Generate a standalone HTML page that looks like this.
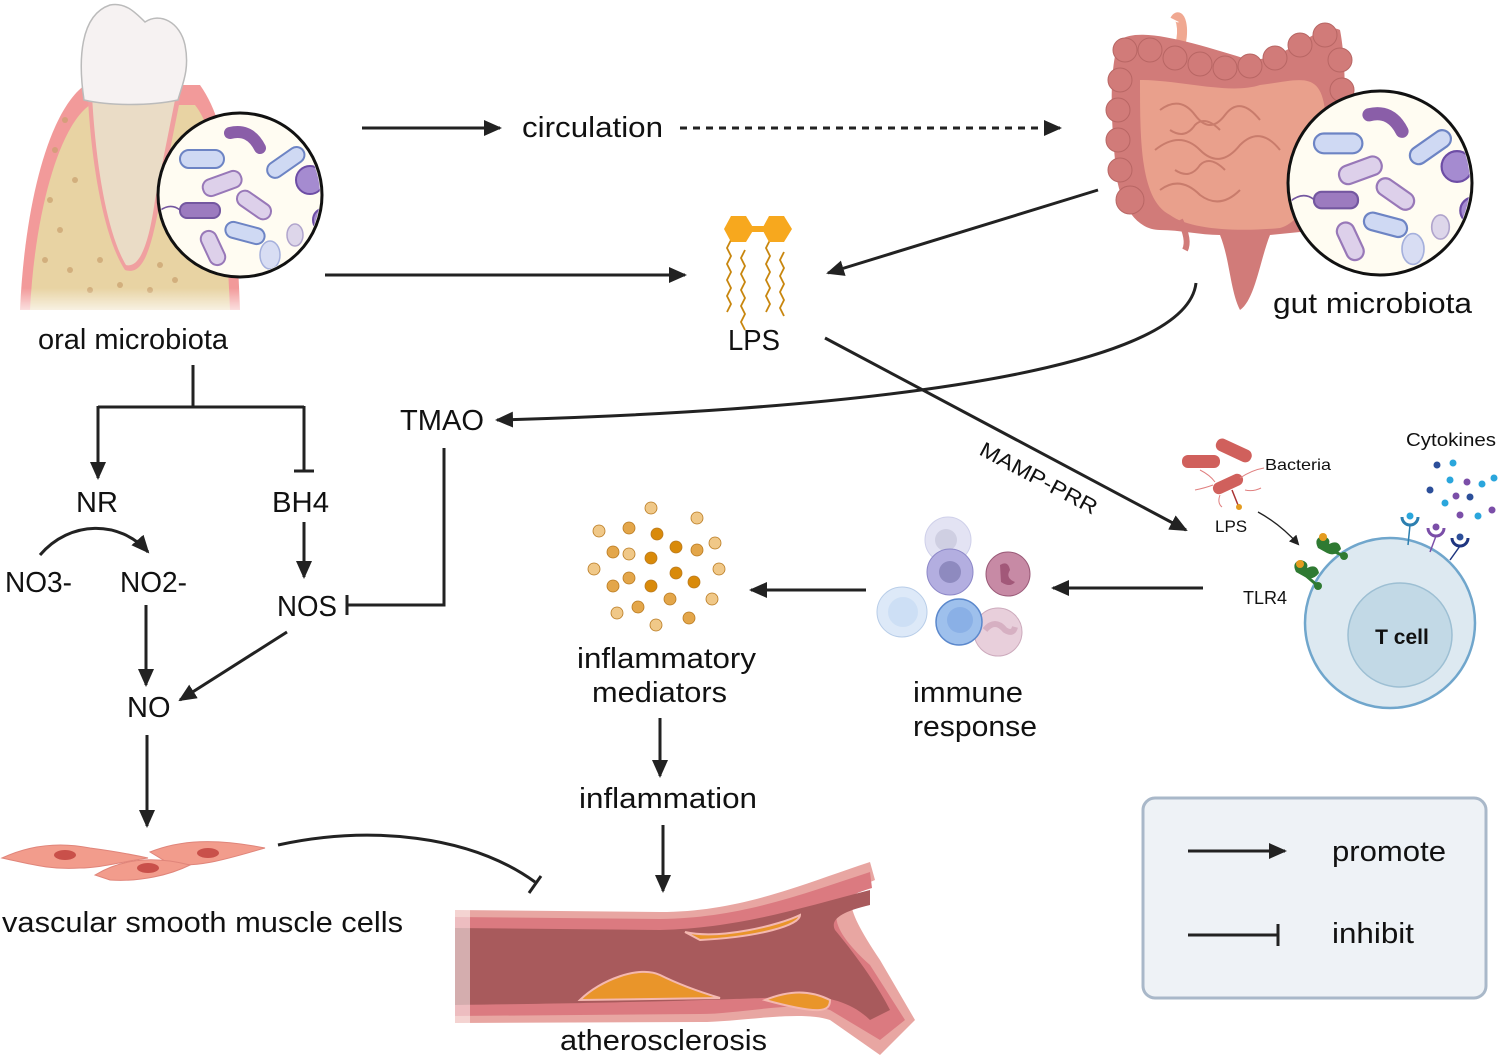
<!DOCTYPE html>
<html><head><meta charset="utf-8"><style>
html,body{margin:0;padding:0;background:#fff}
svg{display:block}
text{font-family:"Liberation Sans",sans-serif;fill:#111}
</style></head><body>
<svg width="1500" height="1060" viewBox="0 0 1500 1060" xmlns="http://www.w3.org/2000/svg">
<defs>
<marker id="ah" markerWidth="10" markerHeight="10" refX="8" refY="5" orient="auto" markerUnits="userSpaceOnUse" viewBox="0 0 10 10"><path d="M0,0 L10,5 L0,10 z" fill="#222"/></marker>
<marker id="ahb" markerWidth="18" markerHeight="16" refX="16" refY="8" orient="auto" markerUnits="userSpaceOnUse" viewBox="0 0 18 16"><path d="M0,0 L18,8 L0,16 z" fill="#222"/></marker>
<linearGradient id="fade" x1="0" y1="0" x2="0" y2="1"><stop offset="0.6" stop-color="#fff" stop-opacity="0"/><stop offset="1" stop-color="#fff" stop-opacity="1"/></linearGradient>
<g id="microbes">
<rect x="-60" y="-45" width="44" height="18" rx="9" fill="#cfd9f3" stroke="#6d84c4" stroke-width="2"/>
<path d="M-10,-62 q20,-5 30,15" stroke="#8a5ea8" stroke-width="12" fill="none" stroke-linecap="round"/>
<rect x="25" y="-40" width="42" height="16" rx="8" transform="rotate(-35 45 -32)" fill="#cfd9f3" stroke="#6d84c4" stroke-width="2"/>
<circle cx="70" cy="-15" r="14" fill="#a58bd0" stroke="#6d4da5" stroke-width="2"/>
<rect x="-38" y="-20" width="40" height="17" rx="8" transform="rotate(-20 -18 -12)" fill="#ddd0ea" stroke="#9878b8" stroke-width="2"/>
<rect x="-5" y="2" width="38" height="16" rx="8" transform="rotate(35 14 10)" fill="#ddd0ea" stroke="#9878b8" stroke-width="2"/>
<rect x="-60" y="8" width="40" height="15" rx="7" fill="#9c7bbf" stroke="#7457a0" stroke-width="2"/>
<path d="M-60,15 q-10,-8 -22,2" stroke="#7457a0" fill="none" stroke-width="1.5"/>
<rect x="-15" y="30" width="40" height="16" rx="8" transform="rotate(15 5 38)" fill="#cfd9f3" stroke="#6d84c4" stroke-width="2"/>
<rect x="-45" y="45" width="36" height="16" rx="8" transform="rotate(65 -27 53)" fill="#ddd0ea" stroke="#9878b8" stroke-width="2"/>
<ellipse cx="30" cy="60" rx="10" ry="14" fill="#d8ddf3" stroke="#a5b0dc" stroke-width="1.5"/>
<ellipse cx="55" cy="40" rx="8" ry="11" fill="#ddd6ea" stroke="#b0a4cc" stroke-width="1.5"/>
<circle cx="85" cy="25" r="12" fill="#a58bd0" stroke="#6d4da5" stroke-width="2"/>
</g>
</defs>

<!-- Tooth -->
<g>
<path d="M20,310 C25,200 50,110 85,85 L200,85 C225,120 235,180 240,310 Z" fill="#f29a9a"/>
<path d="M30,310 C35,210 60,125 90,105 L195,105 C215,130 225,190 230,310 Z" fill="#e8d3a3"/>
<g fill="#c9a06e" opacity="0.7">
<circle cx="50" cy="200" r="3"/><circle cx="60" cy="230" r="3"/><circle cx="45" cy="260" r="3"/><circle cx="70" cy="270" r="3"/><circle cx="55" cy="150" r="3"/><circle cx="75" cy="180" r="3"/><circle cx="190" cy="230" r="3"/><circle cx="200" cy="260" r="3"/><circle cx="175" cy="280" r="3"/><circle cx="90" cy="290" r="3"/><circle cx="120" cy="285" r="3"/><circle cx="150" cy="290" r="3"/><circle cx="65" cy="120" r="3"/><circle cx="180" cy="150" r="3"/><circle cx="100" cy="260" r="3"/><circle cx="160" cy="265" r="3"/>
</g>
<path d="M88,100 C92,170 105,240 125,270 C140,275 150,260 160,200 L180,100 Z" fill="#f0a0a0"/>
<path d="M92,95 C96,170 108,235 126,265 C138,268 148,250 155,200 L176,95 Z" fill="#eadcc6"/>
<path d="M84,100 C78,60 80,15 110,5 C125,2 135,12 145,22 C160,12 180,22 185,45 C190,70 182,85 178,100 C150,106 110,106 84,100 Z" fill="#f6f2f2" stroke="#bbb" stroke-width="1.5"/>
<rect x="15" y="240" width="240" height="80" fill="url(#fade)"/>
<circle cx="240" cy="195" r="82" fill="#fffcf2" stroke="#111" stroke-width="3"/>
<clipPath id="c1"><circle cx="240" cy="195" r="80"/></clipPath>
<g clip-path="url(#c1)"><use href="#microbes" x="240" y="195"/></g>
</g>

<!-- Gut -->
<g>
<path d="M1175,20 C1180,10 1185,30 1180,45" stroke="#f0a891" stroke-width="10" fill="none"/>
<path d="M1120,40 C1140,25 1200,45 1250,60 C1290,60 1320,20 1340,30 C1350,80 1345,200 1320,230 L1270,235 C1260,260 1255,300 1240,310 C1230,290 1230,260 1220,235 C1200,235 1180,230 1160,230 C1130,230 1115,190 1115,160 C1110,110 1110,60 1120,40 Z" fill="#d17b79"/>
<g fill="#d17b79" stroke="#b86664" stroke-width="1"><circle cx="1125" cy="50" r="12"/><circle cx="1150" cy="50" r="12"/><circle cx="1175" cy="58" r="12"/><circle cx="1200" cy="64" r="12"/><circle cx="1225" cy="68" r="12"/><circle cx="1250" cy="66" r="12"/><circle cx="1275" cy="58" r="12"/><circle cx="1300" cy="45" r="12"/><circle cx="1325" cy="35" r="12"/><circle cx="1120" cy="80" r="12"/><circle cx="1118" cy="110" r="12"/><circle cx="1118" cy="140" r="12"/><circle cx="1120" cy="170" r="12"/><circle cx="1130" cy="200" r="14"/><circle cx="1340" cy="60" r="12"/><circle cx="1342" cy="90" r="12"/></g>
<path d="M1140,80 C1180,80 1230,95 1260,85 C1300,80 1320,70 1325,110 C1330,160 1310,220 1280,228 C1240,232 1190,230 1170,215 C1140,200 1140,140 1140,80 Z" fill="#e9a08c"/>
<g stroke="#c97c6c" stroke-width="2" fill="none"><path d="M1160,110 q20,-15 35,5 q15,20 30,0 q15,-20 35,5"/><path d="M1155,150 q25,-20 45,0 q20,20 40,-5 q20,-20 40,5"/><path d="M1160,190 q20,-15 40,5 q20,15 40,-5"/><path d="M1170,130 q15,10 25,-5 q10,-10 25,5"/><path d="M1175,170 q15,10 25,-5 q10,-10 25,5"/></g>
<path d="M1180,220 q10,20 5,30" stroke="#d17b79" stroke-width="6" fill="none"/>
<circle cx="1380" cy="183" r="92" fill="#fffcf2" stroke="#111" stroke-width="3"/>
<clipPath id="c2"><circle cx="1380" cy="183" r="90"/></clipPath>
<g clip-path="url(#c2)"><use href="#microbes" x="1380" y="183" transform="translate(1380 183) scale(1.1) translate(-1380 -183)"/></g>
</g>

<!-- LPS icon -->
<g fill="none" stroke="#c8860e" stroke-width="1.8">
<path d="M731,240 l-4,8 l4,8 l-4,8 l4,8 l-4,8 l4,8 l-4,8 l4,8 l-4,8"/>
<path d="M745,250 l-4,8 l4,8 l-4,8 l4,8 l-4,8 l4,8 l-4,8 l4,8 l-4,8 l4,8"/>
<path d="M770,240 l-4,8 l4,8 l-4,8 l4,8 l-4,8 l4,8 l-4,8 l4,8 l-4,8"/>
<path d="M784,252 l-4,8 l4,8 l-4,8 l4,8 l-4,8 l4,8 l-4,8 l4,8"/>
</g>
<polygon points="724,229 731,216 746,216 754,229 746,242 731,242" fill="#f7a81e"/>
<polygon points="762,229 769,216 784,216 792,229 784,242 769,242" fill="#f7a81e"/>
<rect x="752" y="226" width="12" height="6" fill="#f7a81e"/>

<!-- inflammatory mediator dots -->
<g stroke="#b97a20" stroke-width="0.8">
<circle cx="651" cy="508" r="6" fill="#f0c888"/><circle cx="697" cy="518" r="6" fill="#f0c888"/><circle cx="599" cy="531" r="6" fill="#f0c888"/><circle cx="629" cy="528" r="6" fill="#e3a64a"/><circle cx="657" cy="534" r="6" fill="#d98a0a"/><circle cx="715" cy="543" r="6" fill="#f0c888"/><circle cx="613" cy="552" r="6" fill="#e3a64a"/><circle cx="629" cy="554" r="6" fill="#f0c888"/><circle cx="676" cy="547" r="6" fill="#d98a0a"/><circle cx="697" cy="550" r="6" fill="#e3a64a"/><circle cx="651" cy="558" r="6" fill="#d98a0a"/><circle cx="594" cy="569" r="6" fill="#f0c888"/><circle cx="719" cy="569" r="6" fill="#f0c888"/><circle cx="629" cy="578" r="6" fill="#e3a64a"/><circle cx="676" cy="573" r="6" fill="#d98a0a"/><circle cx="613" cy="586" r="6" fill="#e3a64a"/><circle cx="651" cy="586" r="6" fill="#d98a0a"/><circle cx="694" cy="582" r="6" fill="#d98a0a"/><circle cx="670" cy="599" r="6" fill="#e3a64a"/><circle cx="712" cy="599" r="6" fill="#f0c888"/><circle cx="617" cy="613" r="6" fill="#f0c888"/><circle cx="638" cy="607" r="6" fill="#e3a64a"/><circle cx="689" cy="618" r="6" fill="#e3a64a"/><circle cx="656" cy="625" r="6" fill="#f0c888"/>
</g>

<!-- immune cells -->
<g>
<circle cx="948" cy="540" r="23" fill="#e3e3f3" stroke="#cfd0ea"/><circle cx="946" cy="540" r="11" fill="#cfcfe2"/>
<circle cx="950" cy="572" r="23" fill="#b3aee0" stroke="#8d88c8"/><circle cx="950" cy="572" r="11" fill="#8e8abf"/>
<circle cx="1008" cy="574" r="22" fill="#c78aa5" stroke="#9a5a78"/><path d="M1000,565 q8,-5 10,5 q-5,8 5,12 q-5,6 -14,0 z" fill="#a25879"/>
<circle cx="902" cy="612" r="25" fill="#dde9f8" stroke="#b8cde8"/><circle cx="903" cy="612" r="15" fill="#cddff5"/>
<circle cx="998" cy="632" r="24" fill="#e8cfdb" stroke="#ccaabc"/><path d="M985,630 q10,-12 20,0 q8,5 10,-3" stroke="#d6b0c2" stroke-width="6" fill="none"/>
<circle cx="959" cy="622" r="23" fill="#9ec0ec" stroke="#5b88cc" stroke-width="1.5"/><circle cx="960" cy="620" r="13" fill="#8ab0e6"/>
</g>

<!-- T cell panel -->
<g>
<rect x="1182" y="455" width="38" height="13" rx="6" fill="#d0605c"/>
<rect x="1215" y="444" width="38" height="13" rx="6" transform="rotate(25 1234 450)" fill="#d0605c"/>
<rect x="1212" y="478" width="32" height="12" rx="6" transform="rotate(-25 1228 484)" fill="#d0605c"/>
<g stroke="#e08080" fill="none" stroke-width="1"><path d="M1200,470 q10,5 15,12"/><path d="M1195,490 q10,-2 18,-5"/><path d="M1240,478 q12,-8 24,-10"/><path d="M1245,490 q8,2 16,-2"/><path d="M1220,495 q-3,8 2,12"/></g>
<line x1="1232" y1="490" x2="1238" y2="505" stroke="#a33" stroke-width="1.5"/><circle cx="1239" cy="507" r="3" fill="#e49b1f"/>
<path d="M1258,512 q22,12 40,32" stroke="#222" stroke-width="1.3" fill="none" marker-end="url(#ah)"/>
<text x="1265" y="470" font-size="16" textLength="66" lengthAdjust="spacingAndGlyphs">Bacteria</text>
<text x="1215" y="532" font-size="17">LPS</text>
<text x="1243" y="604" font-size="18">TLR4</text>
<text x="1406" y="446" font-size="18" textLength="90" lengthAdjust="spacingAndGlyphs">Cytokines</text>
<circle cx="1390" cy="623" r="85" fill="#dde9f1" stroke="#70a6cc" stroke-width="2.5"/>
<circle cx="1400" cy="635" r="52" fill="#c2d9e6" stroke="#9dbfd3" stroke-width="1.5"/>
<text x="1402" y="644" font-size="21" font-weight="bold" text-anchor="middle">T cell</text>
<g fill="#2f7a32"><path d="M1318,548 q-5,-10 5,-12 q8,2 6,8 q10,-5 12,5 q-6,8 -14,4 z"/><circle cx="1344" cy="556" r="4"/><line x1="1326" y1="548" x2="1344" y2="556" stroke="#2f7a32" stroke-width="3"/>
<path d="M1296,572 q-5,-10 5,-12 q8,2 6,8 q10,-5 12,5 q-6,8 -14,4 z"/><circle cx="1318" cy="586" r="4"/><line x1="1304" y1="574" x2="1318" y2="586" stroke="#2f7a32" stroke-width="3"/></g>
<circle cx="1323" cy="537" r="4" fill="#e49b1f"/><circle cx="1300" cy="564" r="4" fill="#e49b1f"/>
<g fill="none" stroke-width="3"><path d="M1402,517 a8,8 0 0 0 16,0" stroke="#2c7fb0"/><path d="M1428,528 a8,8 0 0 0 16,0" stroke="#7b4ea8"/><path d="M1452,538 a8,8 0 0 0 16,0" stroke="#1f3580"/></g>
<g stroke-width="1.5"><line x1="1410" y1="525" x2="1408" y2="545" stroke="#2c7fb0"/><line x1="1436" y1="536" x2="1430" y2="552" stroke="#7b4ea8"/><line x1="1460" y1="546" x2="1450" y2="560" stroke="#1f3580"/></g>
<circle cx="1410" cy="516" r="3.5" fill="#2aa6dc"/><circle cx="1436" cy="527" r="3.5" fill="#7b4ea8"/><circle cx="1460" cy="537" r="3.5" fill="#2c4f9a"/>
<g><circle cx="1437" cy="465" r="3.5" fill="#2c4f9a"/><circle cx="1453" cy="463" r="3.5" fill="#2aa6dc"/><circle cx="1450" cy="480" r="3.5" fill="#2aa6dc"/><circle cx="1467" cy="482" r="3.5" fill="#7b4ea8"/><circle cx="1482" cy="484" r="3.5" fill="#2aa6dc"/><circle cx="1494" cy="478" r="3.5" fill="#2aa6dc"/><circle cx="1430" cy="490" r="3.5" fill="#2c4f9a"/><circle cx="1456" cy="496" r="3.5" fill="#7b4ea8"/><circle cx="1470" cy="497" r="3.5" fill="#2c4f9a"/><circle cx="1445" cy="503" r="3.5" fill="#2aa6dc"/><circle cx="1460" cy="515" r="3.5" fill="#7b4ea8"/><circle cx="1478" cy="516" r="3.5" fill="#2aa6dc"/><circle cx="1492" cy="510" r="3.5" fill="#7b4ea8"/></g>
</g>

<!-- VSMC -->
<g fill="#f29c8c" stroke="#e0857a" stroke-width="1">
<path d="M2,858 C30,845 60,842 90,848 C105,850 125,853 148,858 C120,862 100,868 80,868 C50,870 30,864 2,858 Z"/>
<path d="M150,852 C180,840 215,838 265,848 C230,858 200,868 170,864 Z"/>
<path d="M95,875 C120,860 150,855 190,865 C170,875 140,882 110,880 Z"/>
</g>
<g fill="#c9504a"><ellipse cx="65" cy="855" rx="11" ry="5"/><ellipse cx="208" cy="853" rx="11" ry="5"/><ellipse cx="148" cy="868" rx="11" ry="5"/></g>

<!-- Vessel -->
<g>
<path d="M455,910 L660,912 C740,912 800,885 870,862 L875,880 C845,892 840,900 880,960 L915,1020 L880,1055 L830,1020 C800,1010 740,1022 700,1022 L455,1023 Z" fill="#e8a6a2"/>
<path d="M455,917 L660,919 C740,918 800,895 870,872 L872,888 C830,900 820,920 870,965 L905,1020 L880,1040 L830,1010 C800,1000 740,1014 700,1014 L455,1016 Z" fill="#db7a80"/>
<path d="M455,928 L660,930 C740,928 800,908 870,890 L870,905 C840,912 830,920 835,930 C860,960 880,990 890,1010 L870,1020 C850,1000 820,995 800,997 C740,998 700,1002 455,1005 Z" fill="#a85a5c"/>
<path d="M685,932 C720,940 780,925 800,915 C800,925 760,937 700,940 Z" fill="#e9952a" stroke="#f4b8b0" stroke-width="2"/>
<path d="M580,1000 C600,980 640,965 660,975 C680,985 700,992 720,998 Z" fill="#e9952a" stroke="#f4b8b0" stroke-width="2"/>
<path d="M765,1000 C790,990 810,990 830,1000 C830,1012 820,1015 765,1000 Z" fill="#e9952a" stroke="#f4b8b0" stroke-width="2"/>
<rect x="440" y="900" width="30" height="130" fill="#fff" opacity="0.5"/>
</g>

<!-- Connectors -->
<g stroke="#222" stroke-width="3" fill="none">
<line x1="362" y1="128" x2="500" y2="128" marker-end="url(#ahb)"/>
<line x1="680" y1="128" x2="1060" y2="128" stroke-dasharray="7,6" marker-end="url(#ahb)"/>
<line x1="325" y1="275" x2="685" y2="275" marker-end="url(#ahb)"/>
<line x1="1098" y1="190" x2="828" y2="273" marker-end="url(#ahb)"/>
<path d="M1196,283 C1185,380 800,412 497,420" marker-end="url(#ahb)"/>
<line x1="825" y1="338" x2="1186" y2="530" marker-end="url(#ahb)"/>
<polyline points="193,365 193,407"/>
<polyline points="98,407 304,407"/>
<line x1="98" y1="406" x2="98" y2="478" marker-end="url(#ahb)"/>
<line x1="304" y1="406" x2="304" y2="471"/>
<line x1="294" y1="471" x2="314" y2="471"/>
<line x1="304" y1="522" x2="304" y2="577" marker-end="url(#ahb)"/>
<polyline points="444,448 444,605 347,605"/>
<line x1="347" y1="595" x2="347" y2="615"/>
<path d="M40,555 C70,520 120,520 148,552" marker-end="url(#ahb)"/>
<line x1="146" y1="605" x2="146" y2="685" marker-end="url(#ahb)"/>
<line x1="287" y1="632" x2="180" y2="700" marker-end="url(#ahb)"/>
<line x1="147" y1="735" x2="147" y2="826" marker-end="url(#ahb)"/>
<path d="M278,845 C370,825 470,835 535,882"/>
<line x1="529" y1="893" x2="541" y2="876"/>
<line x1="660" y1="718" x2="660" y2="776" marker-end="url(#ahb)"/>
<line x1="663" y1="825" x2="663" y2="891" marker-end="url(#ahb)"/>
<line x1="866" y1="590" x2="751" y2="590" marker-end="url(#ahb)"/>
<line x1="1203" y1="588" x2="1053" y2="588" marker-end="url(#ahb)"/>
</g>

<!-- Labels -->
<g font-size="29">
<text x="522" y="137" textLength="141" lengthAdjust="spacingAndGlyphs">circulation</text>
<text x="38" y="349" textLength="190" lengthAdjust="spacingAndGlyphs">oral microbiota</text>
<text x="1273" y="313" textLength="199" lengthAdjust="spacingAndGlyphs">gut microbiota</text>
<text x="728" y="350" textLength="52" lengthAdjust="spacingAndGlyphs">LPS</text>
<text x="400" y="430" textLength="84" lengthAdjust="spacingAndGlyphs">TMAO</text>
<text x="76" y="512">NR</text>
<text x="272" y="512" textLength="57" lengthAdjust="spacingAndGlyphs">BH4</text>
<text x="5" y="592" textLength="67" lengthAdjust="spacingAndGlyphs">NO3-</text>
<text x="120" y="592" textLength="67" lengthAdjust="spacingAndGlyphs">NO2-</text>
<text x="277" y="616" textLength="60" lengthAdjust="spacingAndGlyphs">NOS</text>
<text x="127" y="717">NO</text>
<text x="2" y="932" textLength="401" lengthAdjust="spacingAndGlyphs">vascular smooth muscle cells</text>
<text x="577" y="668" textLength="179" lengthAdjust="spacingAndGlyphs">inflammatory</text>
<text x="592" y="702" textLength="135" lengthAdjust="spacingAndGlyphs">mediators</text>
<text x="579" y="808" textLength="178" lengthAdjust="spacingAndGlyphs">inflammation</text>
<text x="913" y="702" textLength="110" lengthAdjust="spacingAndGlyphs">immune</text>
<text x="913" y="736" textLength="124" lengthAdjust="spacingAndGlyphs">response</text>
<text x="560" y="1050" textLength="207" lengthAdjust="spacingAndGlyphs">atherosclerosis</text>
</g>
<text x="978" y="454" font-size="21" transform="rotate(28 978 454)" textLength="130" lengthAdjust="spacingAndGlyphs">MAMP-PRR</text>

<!-- Legend -->
<rect x="1143" y="798" width="343" height="200" rx="12" fill="#eef2f6" stroke="#a9b8c9" stroke-width="3"/>
<line x1="1188" y1="851" x2="1285" y2="851" stroke="#222" stroke-width="3" marker-end="url(#ahb)"/>
<line x1="1188" y1="935" x2="1278" y2="935" stroke="#222" stroke-width="3"/>
<line x1="1278" y1="924" x2="1278" y2="946" stroke="#222" stroke-width="3"/>
<text x="1332" y="861" font-size="29" textLength="114" lengthAdjust="spacingAndGlyphs">promote</text>
<text x="1332" y="943" font-size="29" textLength="82" lengthAdjust="spacingAndGlyphs">inhibit</text>
</svg>
</body></html>
